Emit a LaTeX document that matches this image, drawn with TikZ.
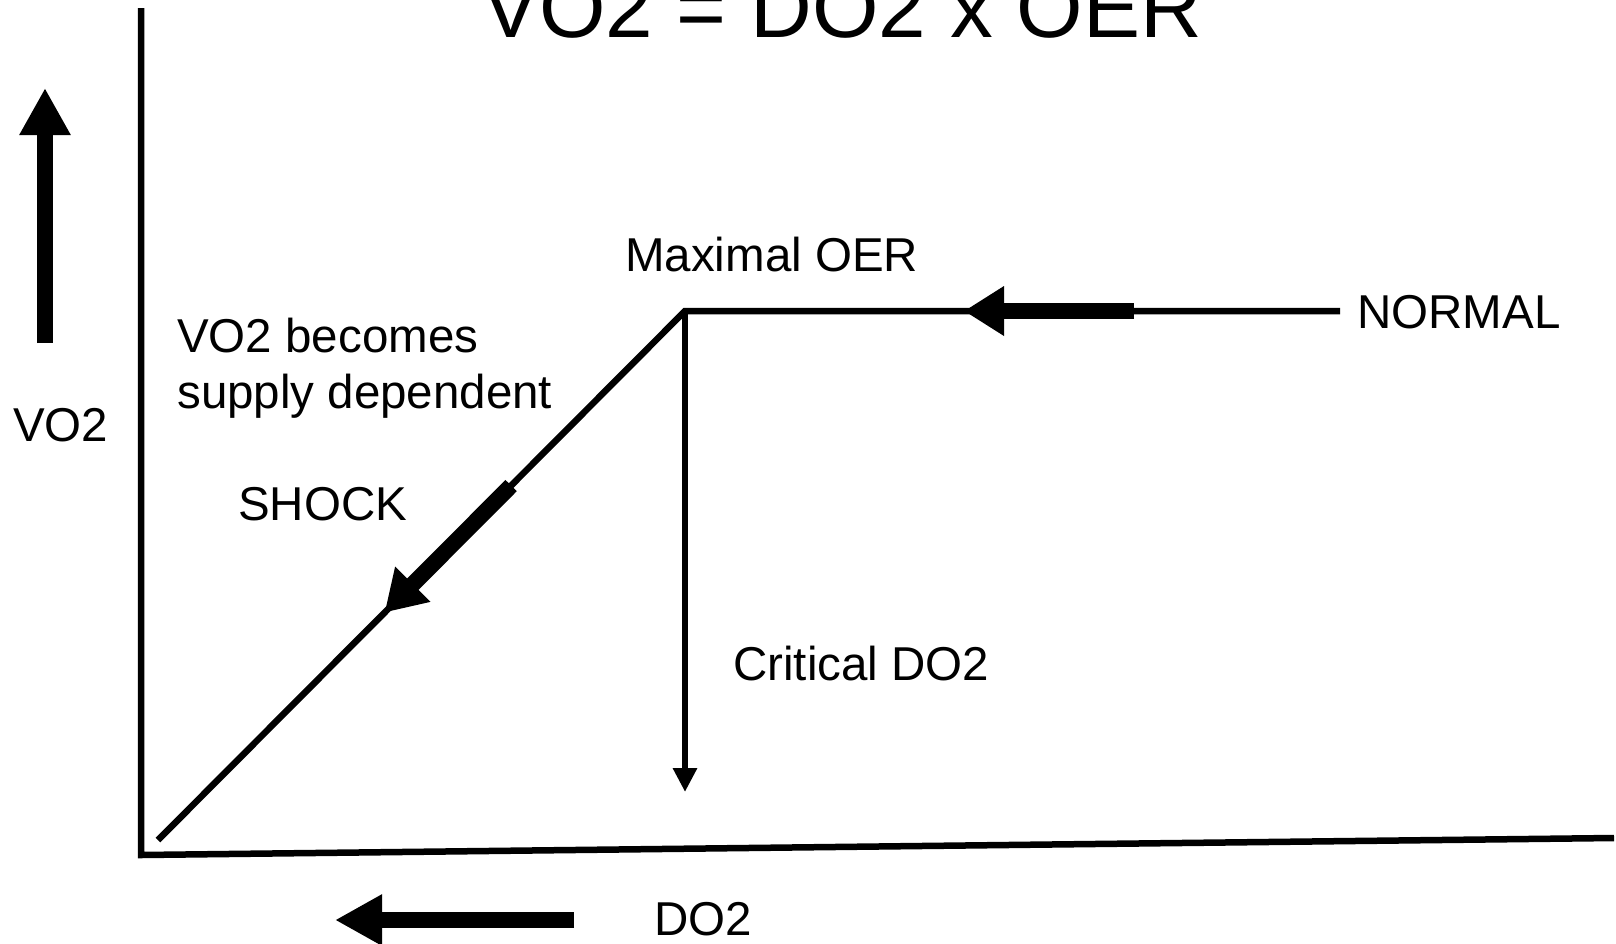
\documentclass[tikz,border=0pt]{standalone}
\usepackage{fontspec}
\setmainfont{Liberation Sans}
\usetikzlibrary{arrows.meta,calc,positioning}
\begin{document}
\begin{tikzpicture}[x=1pt,y=-1pt,line width=6.5pt,
  lbl/.style={inner sep=0pt,anchor=base west,font=\fontsize{47.5}{56.5}\selectfont},
  bigtip/.style={-{Triangle[length=40pt,width=47pt]}},
  fattip/.style={line width=16pt,-{Triangle[length=47pt,width=48pt]}},
  smalltip/.style={-{Triangle[length=24pt,width=23pt]}}]
\useasboundingbox (0,0) rectangle (1616,943);
% axes
\coordinate (o) at (141,855);
\coordinate (ytop) at (141,8);
\coordinate (xend) at (1614,838);
\draw (ytop) -- (o) -- (xend);
% curve
\coordinate (peak) at (685,311);
\coordinate (right) at (1340,311);
\coordinate (low) at (158,840);
\coordinate (crit) at (685,792);
\draw (right) -- (peak) -- (low);
\draw[smalltip] (peak) -- (crit);
% direction arrows
\coordinate (nstart) at (1134,311);
\coordinate (ntip) at (964,311);
\draw[line width=16pt,bigtip] (nstart) -- (ntip);
\coordinate (sstart) at ($(peak)!0.33!(low)$);
\coordinate (stip) at ($(peak)!0.57!(low)$);
\draw[line width=16pt,bigtip] (sstart) -- (stip);
\coordinate (upA) at (45,343);
\coordinate (upB) at (45,88);
\draw[fattip] (upA) -- (upB);
\coordinate (dnA) at (574,920);
\coordinate (dnB) at (335,920);
\draw[fattip] (dnA) -- (dnB);
% labels
\node[inner sep=0pt,anchor=base,font=\fontsize{85.5}{90}\selectfont] (title) at (842,37) {VO2 = DO2 x OER};
\node[lbl] (maxoer) at (622,271) {Maximal OER};
\node[lbl] (normal) at (1354,328) {NORMAL};
\node[lbl] (becomes) at (174,352) {VO2 becomes};
\node[lbl] (supply) at ([yshift=-56.5pt]becomes.base west) {supply dependent};
\node[lbl] (vo) at (10,441) {VO2};
\node[lbl] (shock) at (235,520) {SHOCK};
\node[lbl] (critical) at (730,680) {Critical DO2};
\node[lbl] (do) at (651,935) {DO2};
\end{tikzpicture}
\end{document}
